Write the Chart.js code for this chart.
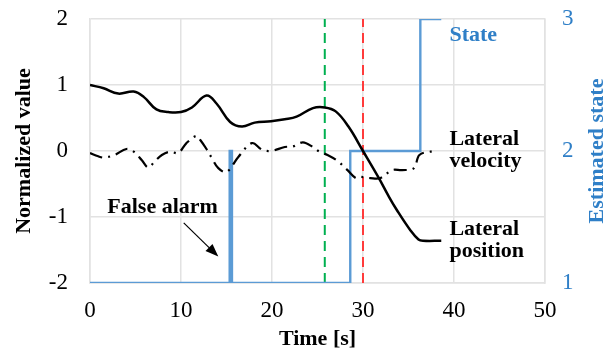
<!DOCTYPE html>
<html>
<head>
<meta charset="utf-8">
<script src="https://cdn.jsdelivr.net/npm/chart.js@4.4.1/dist/chart.umd.min.js"></script>
<style>
  html, body { margin: 0; padding: 0; background: #fff; }
  #wrap { width: 611px; height: 348px; }
</style>
</head>
<body>
<div id="wrap"><canvas id="chart" width="611" height="348"></canvas></div>
<script>
// Series (time in s, normalized values, estimated state)
const positionTime  = [0, 1.5, 3.1, 4.8, 5.9, 7.3, 8.6, 10.0, 11.2, 12.8, 13.9, 15.4, 16.7, 18.1, 19.9, 21.4, 22.7, 24.5, 25.8, 27.0, 28.4, 30.0, 31.7, 32.8, 33.7, 35.2, 36.1, 36.6, 38.6];
const positionValue = [1.0, 0.95, 0.87, 0.90, 0.82, 0.63, 0.59, 0.59, 0.66, 0.84, 0.72, 0.44, 0.37, 0.43, 0.45, 0.48, 0.52, 0.65, 0.66, 0.60, 0.37, 0.0, -0.40, -0.68, -0.89, -1.20, -1.34, -1.36, -1.36];

const velocityTime  = [0, 0.9, 1.5, 2.7, 4.0, 4.8, 5.7, 6.4, 7.1, 7.9, 8.8, 9.7, 10.6, 11.7, 12.1, 12.8, 13.4, 14.1, 15.0, 16.3, 17.8, 18.9, 19.9, 21.4, 22.3, 23.4, 24.5, 25.2, 26.1, 27.2, 28.3, 29.2, 29.6, 30.8, 31.9, 33.2, 34.3, 35.6, 36.2, 37.7];
const velocityValue = [-0.03, -0.08, -0.10, -0.06, 0.03, -0.01, -0.14, -0.25, -0.16, -0.06, -0.01, -0.03, 0.12, 0.23, 0.17, 0.03, -0.11, -0.26, -0.32, -0.09, 0.12, 0.02, 0.0, 0.06, 0.07, 0.13, 0.06, -0.01, -0.06, -0.15, -0.29, -0.41, -0.39, -0.41, -0.41, -0.29, -0.29, -0.26, -0.06, 0.0];

const stateTime  = [0, 15.35, 15.6, 28.6, 36.3, 38.6];
const stateValue = [1, 2, 1, 2, 3, 3];

const greenMarkTime = 25.8;
const redMarkTime = 30.0;

const timeTicks  = [0, 10, 20, 30, 40, 50];
const valueTicks = [-2, -1, 0, 1, 2];
const stateTicks = [1, 2, 3];

const BLUE = '#5b9bd5';
const BLUE_TEXT = '#2f7fc7';
const GRID = '#e2e2e2';
const SERIF = '"Liberation Serif", "Times New Roman", serif';

const toXY = (xs, ys) => xs.map((x, i) => ({ x: x, y: ys[i] }));
const vline = t => [{ x: t, y: valueTicks[0] }, { x: t, y: valueTicks[valueTicks.length - 1] }];

// text notes anchored in data units
const notes = [
    { text: 'State', t: 39.5, v: 1.76, color: BLUE_TEXT },
    { text: 'Lateral', t: 39.5, v: 0.17, color: '#000' },
    { text: 'velocity', t: 39.5, v: -0.16, color: '#000' },
    { text: 'Lateral', t: 39.5, v: -1.18, color: '#000' },
    { text: 'position', t: 39.5, v: -1.52, color: '#000' },
    { text: 'False alarm', t: 1.9, v: -0.85, color: '#000' }
];

const notesPlugin = {
    id: 'notes',
    afterDatasetsDraw(chart) {
        const { ctx, chartArea } = chart;
        const x = chart.scales.x, y = chart.scales.y;
        ctx.save();
        ctx.font = 'bold 22px ' + SERIF;
        ctx.textBaseline = 'middle';
        ctx.textAlign = 'left';
        notes.forEach(n => {
            ctx.fillStyle = n.color;
            ctx.fillText(n.text, x.getPixelForValue(n.t), y.getPixelForValue(n.v));
        });

        // arrow pointing at the false alarm
        const x0 = x.getPixelForValue(10.3), y0 = y.getPixelForValue(-1.09);
        const x1 = x.getPixelForValue(14.1), y1 = y.getPixelForValue(-1.6);
        const ang = Math.atan2(y1 - y0, x1 - x0);
        ctx.strokeStyle = '#000';
        ctx.fillStyle = '#000';
        ctx.lineWidth = 1.2;
        ctx.beginPath();
        ctx.moveTo(x0, y0);
        ctx.lineTo(x1 - 10 * Math.cos(ang), y1 - 10 * Math.sin(ang));
        ctx.stroke();
        ctx.beginPath();
        ctx.moveTo(x1, y1);
        ctx.lineTo(x1 - 13 * Math.cos(ang) + 5 * Math.sin(ang), y1 - 13 * Math.sin(ang) - 5 * Math.cos(ang));
        ctx.lineTo(x1 - 13 * Math.cos(ang) - 5 * Math.sin(ang), y1 - 13 * Math.sin(ang) + 5 * Math.cos(ang));
        ctx.closePath();
        ctx.fill();

        // right axis title reads bottom to top
        ctx.translate(chart.width - 14, (chartArea.top + chartArea.bottom) / 2);
        ctx.rotate(-Math.PI / 2);
        ctx.textAlign = 'center';
        ctx.fillStyle = BLUE_TEXT;
        ctx.fillText('Estimated state', 0, 0);
        ctx.restore();
    }
};

new Chart(document.getElementById('chart').getContext('2d'), {
    type: 'line',
    data: {
        datasets: [
            {
                label: 'Lateral position',
                data: toXY(positionTime, positionValue),
                borderColor: '#000',
                borderWidth: 2.5,
                tension: 0.4,
                pointRadius: 0,
                yAxisID: 'y'
            },
            {
                label: 'Lateral velocity',
                data: toXY(velocityTime, velocityValue),
                borderColor: '#000',
                borderWidth: 2.2,
                borderDash: [13, 6, 2, 6],
                tension: 0.35,
                pointRadius: 0,
                yAxisID: 'y'
            },
            {
                label: 'State',
                data: toXY(stateTime, stateValue),
                borderColor: BLUE,
                borderWidth: 2.4,
                stepped: 'before',
                pointRadius: 0,
                yAxisID: 'y2'
            },
            {
                label: 'red',
                data: vline(redMarkTime),
                borderColor: '#ff3b3b',
                borderWidth: 2,
                borderDash: [10, 6],
                pointRadius: 0,
                yAxisID: 'y'
            },
            {
                label: 'green',
                data: vline(greenMarkTime),
                borderColor: '#00b050',
                borderWidth: 2,
                borderDash: [10, 6],
                pointRadius: 0,
                yAxisID: 'y'
            }
        ]
    },
    options: {
        responsive: false,
        animation: false,
        devicePixelRatio: 1,
        layout: { padding: { top: 19, left: 0, right: 0, bottom: 0 } },
        plugins: {
            legend: { display: false },
            tooltip: { enabled: false }
        },
        scales: {
            x: {
                type: 'linear',
                min: timeTicks[0],
                max: timeTicks[timeTicks.length - 1],
                ticks: {
                    stepSize: 10,
                    color: '#000',
                    padding: 14,
                    font: { family: SERIF, size: 23 }
                },
                grid: { color: GRID, lineWidth: 1.5, drawTicks: false },
                border: { color: GRID, width: 1.5 },
                title: {
                    display: true,
                    text: 'Time [s]',
                    color: '#000',
                    padding: { top: 0, bottom: -2 },
                    font: { family: SERIF, size: 22, weight: 'bold', lineHeight: 1 }
                },
                afterFit: s => { s.height = 65; s.paddingLeft = 0; s.paddingRight = 0; }
            },
            y: {
                position: 'left',
                min: valueTicks[0],
                max: valueTicks[valueTicks.length - 1],
                ticks: {
                    stepSize: 1,
                    color: '#000',
                    padding: 22,
                    font: { family: SERIF, size: 23 }
                },
                grid: { color: GRID, lineWidth: 1.5, drawTicks: false },
                border: { color: GRID, width: 1.5 },
                title: {
                    display: true,
                    text: 'Normalized value',
                    color: '#000',
                    padding: { top: 13, bottom: 0 },
                    font: { family: SERIF, size: 22, weight: 'bold', lineHeight: 1 }
                },
                afterFit: s => { s.width = 90; s.paddingTop = 0; s.paddingBottom = 0; }
            },
            y2: {
                position: 'right',
                min: stateTicks[0],
                max: stateTicks[stateTicks.length - 1],
                ticks: {
                    stepSize: 1,
                    color: BLUE_TEXT,
                    padding: 17,
                    font: { family: SERIF, size: 23 }
                },
                grid: { drawOnChartArea: false, drawTicks: false },
                border: { color: GRID, width: 1.5 },
                afterFit: s => { s.width = 66; s.paddingTop = 0; s.paddingBottom = 0; }
            }
        }
    },
    plugins: [notesPlugin]
});
</script>
</body>
</html>
